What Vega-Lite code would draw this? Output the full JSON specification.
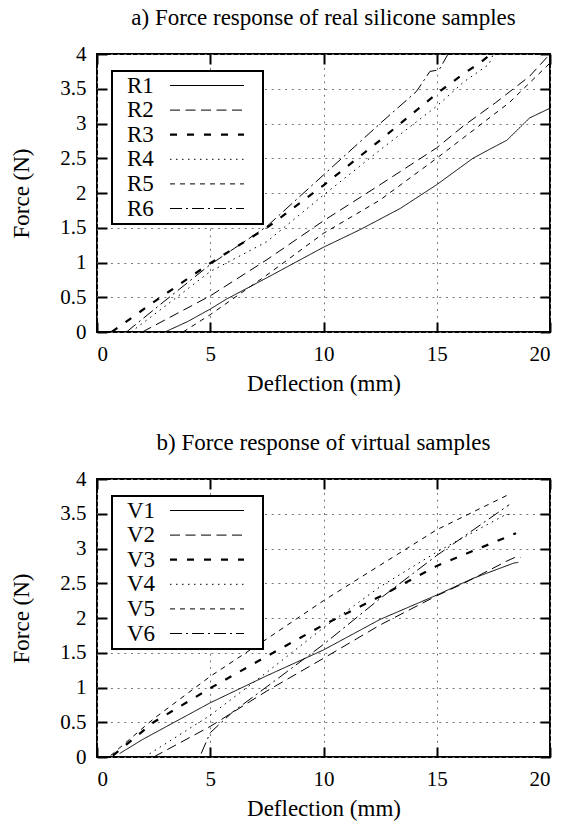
{
  "$schema": "https://vega.github.io/schema/vega-lite/v6.json",
  "background": "white",
  "padding": {"left": 9, "top": 6, "right": 5, "bottom": 5},
  "datasets": {
    "real": [
      {"series":"R1","x":3.0,"y":0},{"series":"R1","x":4,"y":0.15},{"series":"R1","x":5,"y":0.33},{"series":"R1","x":5.7,"y":0.47},{"series":"R1","x":7.5,"y":0.78},{"series":"R1","x":10,"y":1.22},{"series":"R1","x":11.6,"y":1.47},{"series":"R1","x":13.4,"y":1.78},{"series":"R1","x":15,"y":2.12},{"series":"R1","x":16.6,"y":2.5},{"series":"R1","x":17.4,"y":2.64},{"series":"R1","x":18.1,"y":2.76},{"series":"R1","x":19.1,"y":3.08},{"series":"R1","x":20,"y":3.22},
      {"series":"R2","x":2.0,"y":0},{"series":"R2","x":5,"y":0.52},{"series":"R2","x":7.5,"y":1.04},{"series":"R2","x":10,"y":1.6},{"series":"R2","x":12.5,"y":2.12},{"series":"R2","x":15,"y":2.65},{"series":"R2","x":16.2,"y":2.97},{"series":"R2","x":17.6,"y":3.3},{"series":"R2","x":19.1,"y":3.68},{"series":"R2","x":20,"y":4.0},
      {"series":"R3","x":0.65,"y":0},{"series":"R3","x":2.5,"y":0.43},{"series":"R3","x":5,"y":0.99},{"series":"R3","x":7.5,"y":1.5},{"series":"R3","x":10,"y":2.11},{"series":"R3","x":12.5,"y":2.76},{"series":"R3","x":15,"y":3.43},{"series":"R3","x":16.2,"y":3.72},{"series":"R3","x":16.9,"y":3.87},{"series":"R3","x":17.4,"y":4.0},
      {"series":"R4","x":1.5,"y":0},{"series":"R4","x":3,"y":0.37},{"series":"R4","x":5,"y":0.87},{"series":"R4","x":7.5,"y":1.3},{"series":"R4","x":10,"y":1.97},{"series":"R4","x":12.5,"y":2.62},{"series":"R4","x":15,"y":3.25},{"series":"R4","x":16.2,"y":3.6},{"series":"R4","x":17.3,"y":3.85},{"series":"R4","x":17.5,"y":4.0},
      {"series":"R5","x":3.8,"y":0},{"series":"R5","x":5,"y":0.25},{"series":"R5","x":7.5,"y":0.82},{"series":"R5","x":10,"y":1.42},{"series":"R5","x":12.5,"y":1.9},{"series":"R5","x":15,"y":2.5},{"series":"R5","x":16.2,"y":2.8},{"series":"R5","x":18.2,"y":3.3},{"series":"R5","x":20,"y":3.87},
      {"series":"R6","x":1.3,"y":0},{"series":"R6","x":3,"y":0.45},{"series":"R6","x":5,"y":0.97},{"series":"R6","x":7.5,"y":1.52},{"series":"R6","x":10,"y":2.26},{"series":"R6","x":12.5,"y":3.0},{"series":"R6","x":14.1,"y":3.46},{"series":"R6","x":14.7,"y":3.75},{"series":"R6","x":15.1,"y":3.77},{"series":"R6","x":15.5,"y":4.0}
    ],
    "virtual": [
      {"series":"V1","x":1.0,"y":0.05},{"series":"V1","x":2,"y":0.25},{"series":"V1","x":5,"y":0.78},{"series":"V1","x":7.5,"y":1.17},{"series":"V1","x":10,"y":1.54},{"series":"V1","x":12.5,"y":1.98},{"series":"V1","x":15,"y":2.33},{"series":"V1","x":16.6,"y":2.57},{"series":"V1","x":18.4,"y":2.79},{"series":"V1","x":18.6,"y":2.8},
      {"series":"V2","x":2.5,"y":0.0},{"series":"V2","x":5,"y":0.44},{"series":"V2","x":7.5,"y":0.95},{"series":"V2","x":10,"y":1.42},{"series":"V2","x":12.5,"y":1.9},{"series":"V2","x":15,"y":2.32},{"series":"V2","x":16.2,"y":2.5},{"series":"V2","x":18.1,"y":2.82},{"series":"V2","x":18.5,"y":2.88},{"series":"V2","x":18.7,"y":2.87},
      {"series":"V3","x":0.7,"y":0.02},{"series":"V3","x":2.5,"y":0.5},{"series":"V3","x":5,"y":0.99},{"series":"V3","x":7.5,"y":1.45},{"series":"V3","x":10,"y":1.9},{"series":"V3","x":12.5,"y":2.31},{"series":"V3","x":15,"y":2.75},{"series":"V3","x":18.5,"y":3.22},
      {"series":"V4","x":2.1,"y":0.0},{"series":"V4","x":5,"y":0.6},{"series":"V4","x":7.5,"y":1.22},{"series":"V4","x":10,"y":1.86},{"series":"V4","x":12.5,"y":2.45},{"series":"V4","x":15,"y":2.95},{"series":"V4","x":18.0,"y":3.48},{"series":"V4","x":18.4,"y":3.5},
      {"series":"V5","x":0.6,"y":0.02},{"series":"V5","x":2.5,"y":0.55},{"series":"V5","x":5,"y":1.16},{"series":"V5","x":7.5,"y":1.7},{"series":"V5","x":10,"y":2.25},{"series":"V5","x":12.5,"y":2.76},{"series":"V5","x":15,"y":3.27},{"series":"V5","x":18.2,"y":3.78},
      {"series":"V6","x":4.6,"y":0.05},{"series":"V6","x":5,"y":0.35},{"series":"V6","x":6,"y":0.65},{"series":"V6","x":7.7,"y":1.06},{"series":"V6","x":10,"y":1.62},{"series":"V6","x":12.5,"y":2.28},{"series":"V6","x":15,"y":2.9},{"series":"V6","x":18.2,"y":3.63}
    ]
  },
  "spacing": 35,
  "resolve": {"scale": {"strokeDash": "independent", "strokeWidth": "independent"}, "legend": {"strokeDash": "independent", "strokeWidth": "independent"}},
  "vconcat": [
    {
      "title": "a) Force response of real silicone samples",
      "width": 453,
      "height": 278,
      "data": {"name": "real"},
      "layer": [
        {
          "mark": {"type": "line", "color": "black", "clip": true},
          "encoding": {
            "x": {"field": "x", "type": "quantitative", "scale": {"domain": [0, 20], "nice": false}, "axis": {"orient": "bottom", "values": [0, 5, 10, 15, 20], "title": "Deflection (mm)", "grid": true, "titlePadding": 8}},
            "y": {"field": "y", "type": "quantitative", "scale": {"domain": [0, 4], "nice": false}, "axis": {"orient": "left", "values": [0, 0.5, 1, 1.5, 2, 2.5, 3, 3.5, 4], "format": "~g", "title": "Force (N)", "grid": true, "titlePadding": 26}},
            "strokeDash": {"field": "series", "type": "nominal", "scale": {"type": "ordinal", "domain": ["R1","R2","R3","R4","R5","R6"], "range": [[1,0],[10,5.5],[7,10],[1.5,4.5],[5,5],[12,4,2,4]]},
              "legend": {"orient": "none", "legendX": 15, "legendY": 17, "title": null, "symbolType": "M -7.4 0 L 7.4 0 M 9.6 0 L 9.6 0", "symbolSize": 100, "symbolStrokeColor": "black", "symbolFillColor": "transparent", "symbolOffset": 80.5, "labelOffset": -91.5, "labelFont": "Liberation Serif", "labelFontSize": 23, "labelColor": "black", "strokeColor": "black", "fillColor": "white", "padding": 3, "rowPadding": 0.6, "encode": {"legend": {"update": {"strokeWidth": {"value": 2}}}}}},
            "strokeWidth": {"field": "series", "type": "nominal", "scale": {"type": "ordinal", "domain": ["R1","R2","R3","R4","R5","R6"], "range": [1,1,2.2,1,1,1]},
              "legend": {"orient": "none", "legendX": 15, "legendY": 17, "title": null, "symbolType": "M -7.4 0 L 7.4 0 M 9.6 0 L 9.6 0", "symbolSize": 100, "symbolStrokeColor": "black", "symbolFillColor": "transparent", "symbolOffset": 80.5, "labelOffset": -91.5, "labelFont": "Liberation Serif", "labelFontSize": 23, "labelColor": "black", "strokeColor": "black", "fillColor": "white", "padding": 3, "rowPadding": 0.6, "encode": {"legend": {"update": {"strokeWidth": {"value": 2}}}}}}
          }
        },
        {
          "mark": {"type": "line", "opacity": 0},
          "encoding": {
            "x": {"field": "x", "type": "quantitative", "axis": {"orient": "top", "values": [0, 5, 10, 15, 20], "labels": false, "title": null, "grid": false}},
            "y": {"field": "y", "type": "quantitative", "axis": {"orient": "right", "values": [0, 0.5, 1, 1.5, 2, 2.5, 3, 3.5, 4], "labels": false, "title": null, "grid": false}}
          }
        }
      ],
      "resolve": {"axis": {"x": "independent", "y": "independent"}}
    },
    {
      "title": "b) Force response of virtual samples",
      "width": 453,
      "height": 278,
      "data": {"name": "virtual"},
      "layer": [
        {
          "mark": {"type": "line", "color": "black", "clip": true},
          "encoding": {
            "x": {"field": "x", "type": "quantitative", "scale": {"domain": [0, 20], "nice": false}, "axis": {"orient": "bottom", "values": [0, 5, 10, 15, 20], "title": "Deflection (mm)", "grid": true, "titlePadding": 8}},
            "y": {"field": "y", "type": "quantitative", "scale": {"domain": [0, 4], "nice": false}, "axis": {"orient": "left", "values": [0, 0.5, 1, 1.5, 2, 2.5, 3, 3.5, 4], "format": "~g", "title": "Force (N)", "grid": true, "titlePadding": 26}},
            "strokeDash": {"field": "series", "type": "nominal", "scale": {"type": "ordinal", "domain": ["V1","V2","V3","V4","V5","V6"], "range": [[1,0],[10,5.5],[7,10],[1.5,4.5],[5,5],[12,4,2,4]]},
              "legend": {"orient": "none", "legendX": 15, "legendY": 17, "title": null, "symbolType": "M -7.4 0 L 7.4 0 M 9.6 0 L 9.6 0", "symbolSize": 100, "symbolStrokeColor": "black", "symbolFillColor": "transparent", "symbolOffset": 80.5, "labelOffset": -91.5, "labelFont": "Liberation Serif", "labelFontSize": 23, "labelColor": "black", "strokeColor": "black", "fillColor": "white", "padding": 3, "rowPadding": 0.6, "encode": {"legend": {"update": {"strokeWidth": {"value": 2}}}}}},
            "strokeWidth": {"field": "series", "type": "nominal", "scale": {"type": "ordinal", "domain": ["V1","V2","V3","V4","V5","V6"], "range": [1,1,2.2,1,1,1]},
              "legend": {"orient": "none", "legendX": 15, "legendY": 17, "title": null, "symbolType": "M -7.4 0 L 7.4 0 M 9.6 0 L 9.6 0", "symbolSize": 100, "symbolStrokeColor": "black", "symbolFillColor": "transparent", "symbolOffset": 80.5, "labelOffset": -91.5, "labelFont": "Liberation Serif", "labelFontSize": 23, "labelColor": "black", "strokeColor": "black", "fillColor": "white", "padding": 3, "rowPadding": 0.6, "encode": {"legend": {"update": {"strokeWidth": {"value": 2}}}}}}
          }
        },
        {
          "mark": {"type": "line", "opacity": 0},
          "encoding": {
            "x": {"field": "x", "type": "quantitative", "axis": {"orient": "top", "values": [0, 5, 10, 15, 20], "labels": false, "title": null, "grid": false}},
            "y": {"field": "y", "type": "quantitative", "axis": {"orient": "right", "values": [0, 0.5, 1, 1.5, 2, 2.5, 3, 3.5, 4], "labels": false, "title": null, "grid": false}}
          }
        }
      ],
      "resolve": {"axis": {"x": "independent", "y": "independent"}}
    }
  ],
  "config": {
    "font": "Liberation Serif",
    "view": {"stroke": "black", "strokeWidth": 2},
    "axis": {"labelFont": "Liberation Serif", "labelFontSize": 21, "labelColor": "black", "titleFont": "Liberation Serif", "titleFontSize": 23, "titleFontWeight": "normal", "titleColor": "black", "domain": false, "tickColor": "black", "tickWidth": 2, "tickSize": -10, "labelPadding": 21, "gridColor": "#777777", "gridDash": [2, 4.7], "gridWidth": 1, "gridOpacity": 1},
    "title": {"font": "Liberation Serif", "fontSize": 23, "fontWeight": "normal", "color": "black", "offset": 13}
  }
}
